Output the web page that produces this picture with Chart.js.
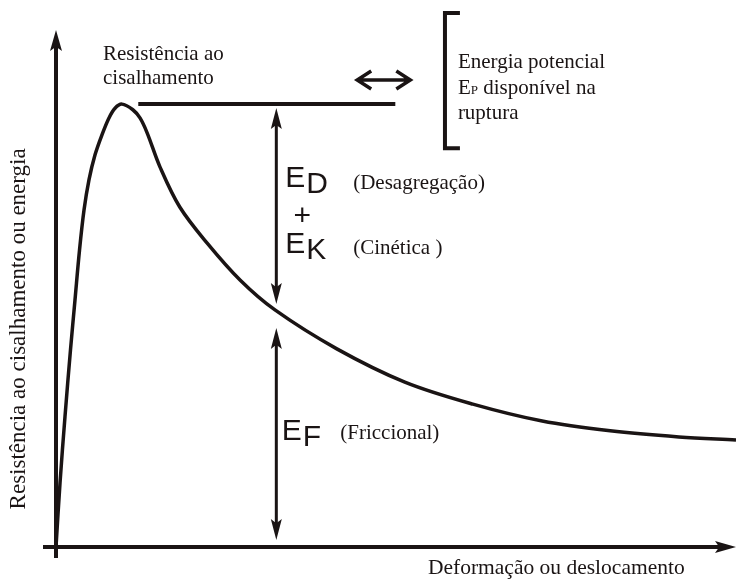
<!DOCTYPE html>
<html>
<head>
<meta charset="utf-8">
<script src="https://cdn.jsdelivr.net/npm/chart.js@4.4.0/dist/chart.umd.min.js"></script>
<style>
  html, body { margin: 0; padding: 0; background: #fff; }
</style>
</head>
<body>
<canvas id="curve" width="736" height="580"></canvas>
<script>
// shear resistance curve, arbitrary units (0-100 on both axes)
const deformation = [0, 0.59, 1.32, 2.13, 2.79, 3.46, 4.12, 4.85, 5.74, 6.76, 7.79, 8.68, 9.71, 11.3, 12.35, 13.4, 15.3, 18.2, 22.2, 27.1, 32.2, 41.3, 51.3, 61.3, 71.5, 81.5, 91.6, 100];
const resistance = [0, 12.5, 25.4, 38.5, 48.2, 58.0, 65.8, 71.7, 76.6, 80.5, 83.8, 85.7, 86.5, 85.4, 83.8, 80.9, 74.2, 66.4, 59.4, 52.1, 46.3, 38.7, 32.2, 27.9, 24.6, 22.7, 21.5, 20.9];

const peakLevel = 86.5;        // shear strength at rupture
const peakLineX = [12.1, 49.9];
const energyX = 32.4;          // where E_D + E_K and E_F are measured
const residualAtE = 46.3;      // curve value at energyX

const xTitle = 'Deformação ou deslocamento';
const yTitle = 'Resistência ao cisalhamento ou energia';

const ink = '#1a1414';
const serif = '"Liberation Serif", "Times New Roman", serif';
const sans = '"Liberation Sans", Arial, sans-serif';

function head(ctx, tx, ty, dx, dy, len, half) {
  const bx = tx - dx * len, by = ty - dy * len;
  const nx = -dy, ny = dx;
  ctx.beginPath();
  ctx.moveTo(tx, ty);
  ctx.lineTo(bx + nx * half, by + ny * half);
  ctx.lineTo(tx - dx * len * 0.8, ty - dy * len * 0.8);
  ctx.lineTo(bx - nx * half, by - ny * half);
  ctx.closePath();
  ctx.fill();
}

function text(ctx, s, x, y, font) {
  ctx.font = font;
  ctx.fillText(s, x, y);
  return ctx.measureText(s).width;
}

// E with a shifted subscript letter, e.g. E_D
function energy(ctx, sub, x, y) {
  const w = text(ctx, 'E', x, y, '30px ' + sans);
  text(ctx, sub, x + w + 1, y + 6, '30px ' + sans);
}

const sketch = {
  id: 'sketch',
  beforeDatasetsDraw(chart) {
    const { ctx, chartArea: a } = chart;
    ctx.save();
    ctx.strokeStyle = ink;
    ctx.fillStyle = ink;
    ctx.lineWidth = 4;
    ctx.beginPath();
    ctx.moveTo(a.left, a.bottom + 11);
    ctx.lineTo(a.left, a.top + 5);
    ctx.moveTo(a.left - 13, a.bottom);
    ctx.lineTo(a.right - 14, a.bottom);
    ctx.stroke();
    head(ctx, a.left, a.top - 5, 0, -1, 21, 6);
    head(ctx, a.right, a.bottom, 1, 0, 21, 6);
    ctx.restore();
  },
  afterDatasetsDraw(chart) {
    const { ctx, scales: { x, y } } = chart;
    ctx.save();
    ctx.strokeStyle = ink;
    ctx.fillStyle = ink;

    // vertical energy arrows
    const ex = x.getPixelForValue(energyX);
    const top = y.getPixelForValue(peakLevel) + 4;
    const mid = y.getPixelForValue(residualAtE);
    const bot = y.getPixelForValue(0) - 7;
    ctx.lineWidth = 3;
    ctx.beginPath();
    ctx.moveTo(ex, top + 15); ctx.lineTo(ex, mid - 22);
    ctx.moveTo(ex, mid + 33); ctx.lineTo(ex, bot - 15);
    ctx.stroke();
    head(ctx, ex, top, 0, -1, 21, 5.5);
    head(ctx, ex, mid - 6, 0, 1, 21, 5.5);
    head(ctx, ex, mid + 18, 0, -1, 21, 5.5);
    head(ctx, ex, bot, 0, 1, 21, 5.5);

    // double arrow next to the peak line
    const ay = y.getPixelForValue(91.2);
    const a0 = x.getPixelForValue(44.0), a1 = x.getPixelForValue(52.4);
    ctx.lineWidth = 3.5;
    ctx.beginPath();
    ctx.moveTo(a0 + 2, ay); ctx.lineTo(a1 - 2, ay);
    ctx.moveTo(a0 + 16, ay - 9); ctx.lineTo(a0 + 2, ay); ctx.lineTo(a0 + 16, ay + 9);
    ctx.moveTo(a1 - 16, ay - 9); ctx.lineTo(a1 - 2, ay); ctx.lineTo(a1 - 16, ay + 9);
    ctx.stroke();

    // bracket
    const bx = x.getPixelForValue(57.2), bs = x.getPixelForValue(59.4);
    const b0 = y.getPixelForValue(104.3), b1 = y.getPixelForValue(77.9);
    ctx.lineWidth = 4;
    ctx.beginPath();
    ctx.moveTo(bs, b0); ctx.lineTo(bx, b0); ctx.lineTo(bx, b1); ctx.lineTo(bs, b1);
    ctx.stroke();

    // texts
    ctx.textBaseline = 'alphabetic';
    ctx.textAlign = 'left';
    const f = '21px ' + serif;
    const X = v => x.getPixelForValue(v), Y = v => y.getPixelForValue(v);
    text(ctx, 'Resistência ao', X(6.91), Y(95.1), f);
    text(ctx, 'cisalhamento', X(6.91), Y(90.4), f);
    text(ctx, 'Energia potencial', X(59.1), Y(93.55), f);
    let w = text(ctx, 'E', X(59.1), Y(88.5), f);
    w += text(ctx, 'P', X(59.1) + w, Y(88.5), '13px ' + serif);
    text(ctx, ' disponível na', X(59.1) + w, Y(88.5), f);
    text(ctx, 'ruptura', X(59.1), Y(83.6), f);

    energy(ctx, 'D', X(33.7), Y(70.3));
    ctx.textAlign = 'center';
    ctx.textBaseline = 'middle';
    text(ctx, '+', X(36.2), Y(64.6), '30px ' + sans);
    ctx.textAlign = 'left';
    ctx.textBaseline = 'alphabetic';
    energy(ctx, 'K', X(33.7), Y(57.4));
    energy(ctx, 'F', X(33.2), Y(20.9));
    text(ctx, '(Desagregação)', X(43.7), Y(69.9), f);
    text(ctx, '(Cinética )', X(43.7), Y(57.2), f);
    text(ctx, '(Friccional)', X(41.8), Y(21.1), f);

    text(ctx, xTitle, X(54.7), Y(-5.27), '21.5px ' + serif);
    ctx.translate(X(-4.56), Y(42.6));
    ctx.rotate(-Math.PI / 2);
    ctx.textAlign = 'center';
    text(ctx, yTitle, 0, 0, '23px ' + serif);
    ctx.restore();
  }
};

new Chart(document.getElementById('curve'), {
  type: 'line',
  data: {
    datasets: [
      {
        data: deformation.map((d, i) => ({ x: d, y: resistance[i] })),
        borderColor: ink,
        borderWidth: 3.5,
        pointRadius: 0,
        tension: 0.35,
        fill: false
      },
      {
        data: peakLineX.map(d => ({ x: d, y: peakLevel })),
        borderColor: ink,
        borderWidth: 4,
        pointRadius: 0,
        borderCapStyle: 'butt'
      }
    ]
  },
  options: {
    responsive: false,
    animation: false,
    events: [],
    layout: { padding: { left: 56, right: 0, top: 35, bottom: 33 } },
    scales: {
      x: { type: 'linear', min: 0, max: 100, display: false },
      y: { type: 'linear', min: 0, max: 100, display: false }
    },
    plugins: {
      legend: { display: false },
      tooltip: { enabled: false }
    }
  },
  plugins: [sketch]
});
</script>
</body>
</html>
